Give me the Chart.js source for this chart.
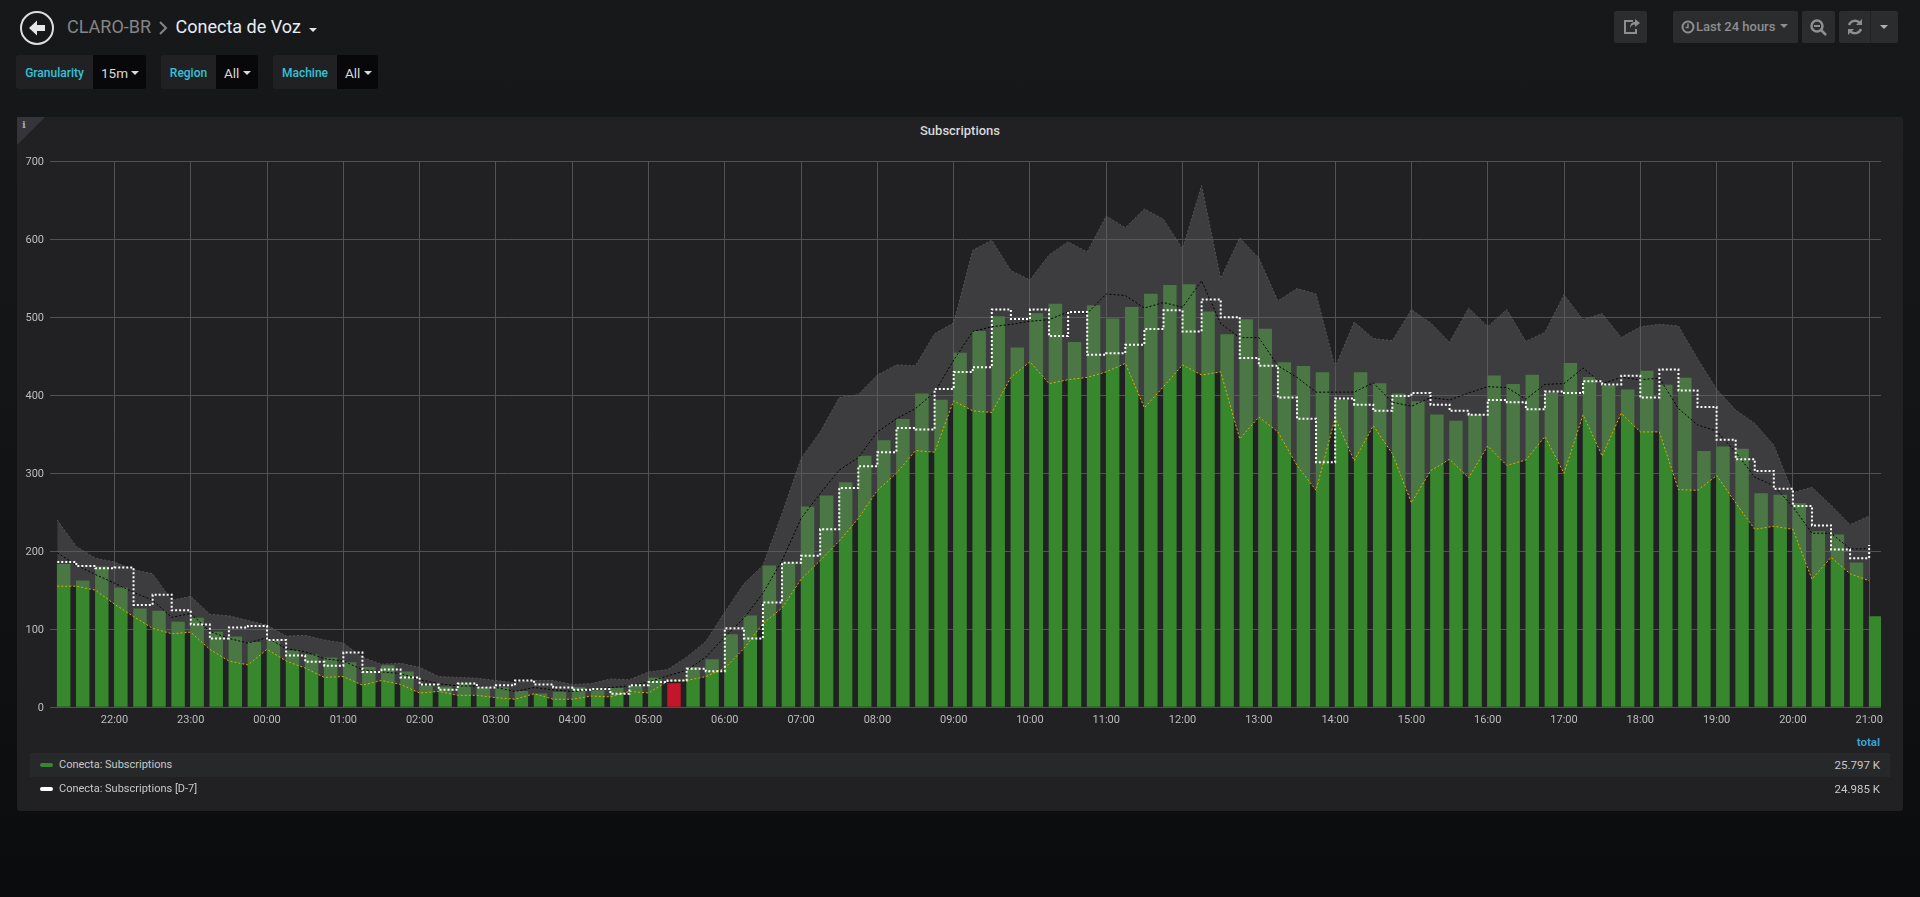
<!DOCTYPE html>
<html>
<head>
<meta charset="utf-8">
<title>Conecta de Voz</title>
<script src="https://cdn.jsdelivr.net/npm/chart.js@4"></script>
<style>
  html, body { margin: 0; padding: 0; width: 1920px; height: 897px; overflow: hidden; }
  body { background: linear-gradient(180deg, #17181a 0, #141517 40%, #0b0c0e 100%); font-family: Roboto, sans-serif; position: relative; }
  .abs { position: absolute; white-space: nowrap; }
  .crumb { font-size: 18px; line-height: 24px; top: 15px; }
  .var-label, .var-value { top: 55px; height: 34px; line-height: 36px; box-sizing: border-box; }
  .var-label { background: #212124; color: #33c3d8; font-size: 12px; font-weight: 500; text-align: center; border-radius: 3px 0 0 3px; }
  .var-value { background: #08080a; color: #d8d9da; font-size: 13.5px; padding-left: 8px; border-radius: 0 3px 3px 0; }
  .caret { width: 0; height: 0; border-left: 4px solid transparent; border-right: 4px solid transparent; border-top: 4px solid currentColor; }
  .btn { top: 11px; height: 32px; background: #2b2c2e; border-radius: 2px; color: #8e8e8e; }
  #panel { left: 17px; top: 117px; width: 1886px; height: 694px; background: #212124; border-radius: 3px; }
  #corner { left: 17px; top: 117px; width: 0; height: 0; border-top: 28px solid #34343a; border-right: 28px solid transparent; }
  #chart { position: absolute; left: 17px; top: 117px; }
  #panel-title { left: 17px; width: 1886px; top: 123px; text-align: center; color: #d8d9da; font-size: 13px; font-weight: 500; line-height: 16px; }
  .leg-row { left: 30px; width: 1860px; height: 24px; line-height: 24px; color: #c8c8c8; font-size: 11px; }
  .leg-name { position: absolute; left: 29px; }
  .leg-total { position: absolute; right: 10px; font-size: 11.5px; }
  .leg-swatch { position: absolute; left: 10px; top: 10px; width: 13px; height: 4px; border-radius: 2px; }
</style>
</head>
<body>
<svg class="abs" style="left:19px;top:10px" width="37" height="36" viewBox="0 0 37 36">
  <circle cx="18" cy="18" r="16" fill="none" stroke="#dfdfdf" stroke-width="2"/>
  <path d="M10 18 L18 10.5 L18 15 L26 15 L26 21 L18 21 L18 25.5 Z" fill="#e6e6e6"/>
</svg>
<div class="abs crumb" style="left:67px;color:#858585">CLARO-BR</div>
<svg class="abs" style="left:159px;top:21px" width="9" height="14" viewBox="0 0 9 14"><path d="M1 1 L7 7 L1 13" fill="none" stroke="#858585" stroke-width="2"/></svg>
<div class="abs crumb" style="left:175.5px;color:#e9edf2">Conecta de Voz</div>
<div class="abs caret" style="left:309px;top:28px;color:#e3e3e3"></div>

<div class="abs var-label" style="left:16px;width:77px">Granularity</div>
<div class="abs var-value" style="left:93px;width:53px">15m</div>
<div class="abs caret" style="left:131px;top:71px;color:#d8d9da"></div>
<div class="abs var-label" style="left:161px;width:55px">Region</div>
<div class="abs var-value" style="left:216px;width:42px">All</div>
<div class="abs caret" style="left:243px;top:71px;color:#d8d9da"></div>
<div class="abs var-label" style="left:273px;width:64px">Machine</div>
<div class="abs var-value" style="left:337px;width:41px">All</div>
<div class="abs caret" style="left:364px;top:71px;color:#d8d9da"></div>

<div class="abs btn" style="left:1614px;width:33px">
  <svg width="33" height="32" viewBox="0 0 33 32"><path d="M19 10 H11 V22 H22 V18" fill="none" stroke="#8e8e8e" stroke-width="2"/><path d="M16 17 C16 13 18 11 21 11 V8 L26 12 L21 16 V13.5 C18.500 13.500 17 15 16 17 Z" fill="#8e8e8e"/></svg>
</div>
<div class="abs btn" style="left:1673px;width:125px;line-height:32px;font-size:13px;font-weight:500">
  <svg class="abs" style="left:8px;top:9px" width="14" height="14" viewBox="0 0 14 14"><circle cx="7" cy="7" r="5.500" fill="none" stroke="#8e8e8e" stroke-width="2"/><path d="M7 3.500 V7.500 H4.500" fill="none" stroke="#8e8e8e" stroke-width="1.500"/></svg>
  <span class="abs" style="left:23px">Last 24 hours</span>
  <div class="abs caret" style="left:107px;top:13px"></div>
</div>
<div class="abs btn" style="left:1802px;width:33px">
  <svg width="33" height="32" viewBox="0 0 33 32"><circle cx="15" cy="15" r="5.500" fill="none" stroke="#8e8e8e" stroke-width="2.500"/><path d="M12 15 H18" stroke="#8e8e8e" stroke-width="2"/><path d="M19 19 L24 24" stroke="#8e8e8e" stroke-width="2.500"/></svg>
</div>
<div class="abs btn" style="left:1839px;width:59px">
  <svg class="abs" style="left:0;top:0" width="32" height="32" viewBox="0 0 32 32"><path d="M10 14 A6.500 6.500 0 0 1 21 12" fill="none" stroke="#8e8e8e" stroke-width="2.500"/><path d="M23 8 V14 H17 Z" fill="#8e8e8e"/><path d="M22 18 A6.500 6.500 0 0 1 11 20" fill="none" stroke="#8e8e8e" stroke-width="2.500"/><path d="M9 24 V18 H15 Z" fill="#8e8e8e"/></svg>
  <div class="abs" style="left:31px;top:0;width:1px;height:32px;background:#212224"></div>
  <div class="abs caret" style="left:41px;top:14px;color:#b0b0b0"></div>
</div>

<div id="panel" class="abs"></div>
<div id="corner" class="abs"></div>
<div class="abs" style="left:22px;top:119px;color:#a8a8a8;font:bold 10px 'DejaVu Serif',serif">i</div>
<div id="panel-title" class="abs">Subscriptions</div>
<canvas id="chart" width="1886" height="694"></canvas>

<div class="abs" style="right:40px;top:735px;color:#33a5d8;font-size:11.5px;font-weight:700;line-height:14px">total</div>
<div id="legend"></div>

<script>
const times = [
  '21:15','21:30','21:45',
  '22:00','22:15','22:30','22:45','23:00','23:15','23:30','23:45',
  '00:00','00:15','00:30','00:45','01:00','01:15','01:30','01:45',
  '02:00','02:15','02:30','02:45','03:00','03:15','03:30','03:45',
  '04:00','04:15','04:30','04:45','05:00','05:15','05:30','05:45',
  '06:00','06:15','06:30','06:45','07:00','07:15','07:30','07:45',
  '08:00','08:15','08:30','08:45','09:00','09:15','09:30','09:45',
  '10:00','10:15','10:30','10:45','11:00','11:15','11:30','11:45',
  '12:00','12:15','12:30','12:45','13:00','13:15','13:30','13:45',
  '14:00','14:15','14:30','14:45','15:00','15:15','15:30','15:45',
  '16:00','16:15','16:30','16:45','17:00','17:15','17:30','17:45',
  '18:00','18:15','18:30','18:45','19:00','19:15','19:30','19:45',
  '20:00','20:15','20:30','20:45','21:00'
];

// Conecta: Subscriptions
const subscriptions = [
  183,162,180,
  153,126,123,109,114,96,90,83,
  85,72,67,63,57,51,53,45,
  27,26,30,25,25,20,17,19,
  25,21,24,27,37,30,51,61,
  93,117,181,185,257,271,288,322,
  342,369,402,394,454,482,501,461,
  505,517,468,515,498,513,530,541,
  542,507,478,497,485,442,437,429,
  394,429,415,402,392,375,367,375,
  425,414,426,403,441,423,412,407,
  431,413,422,328,334,331,274,272,
  261,225,221,185,116
];

// Conecta: Subscriptions [D-7]
const subscriptionsD7 = [
  186,181,178,
  179,131,144,124,106,88,102,104,
  86,66,58,53,70,45,48,38,
  29,22,30,25,28,34,29,25,
  22,23,17,28,32,34,49,46,
  101,88,134,185,194,228,281,309,
  327,358,356,408,430,436,510,498,
  510,476,507,452,454,465,485,509,
  482,523,500,448,438,397,370,314,
  396,388,380,399,403,388,380,375,
  394,391,382,405,403,418,414,425,
  397,433,406,385,343,318,303,280,
  258,233,202,191,208
];

// expected band
const bandUpper = [
  240,206,191,
  186,176,171,137,142,119,117,111,
  105,91,92,86,82,64,55,56,
  51,39,38,37,34,31,34,34,
  29,30,36,35,45,48,64,84,
  122,158,182,248,319,353,397,401,
  426,439,438,479,493,586,599,560,
  548,580,597,584,630,615,639,626,
  588,669,550,602,576,521,537,530,
  436,494,473,470,510,493,468,512,
  488,510,469,481,529,497,505,474,
  488,491,489,447,408,381,364,336,
  275,282,259,234,245
];

const bandLower = [
  155,155,150,
  132,116,101,94,96,74,59,54,
  74,59,50,38,39,28,34,29,
  18,20,15,15,12,10,17,10,
  10,14,13,20,18,33,34,39,
  50,75,107,127,164,188,213,242,
  278,300,329,327,393,380,378,423,
  443,415,420,423,430,441,384,411,
  439,426,430,344,372,353,310,278,
  371,316,361,325,262,303,318,294,
  335,310,317,347,300,375,322,377,
  353,353,279,278,297,262,228,232,
  228,164,192,171,162
];

const bandMedian = [
  198,182,170,
  159,147,137,115,120,97,88,82,
  89,75,71,62,59,48,45,43,
  35,30,27,27,25,20,25,22,
  20,22,25,27,32,40,47,64,
  90,114,146,188,242,274,304,320,
  353,370,383,404,445,482,488,491,
  495,497,507,505,530,528,512,519,
  513,547,492,474,474,438,423,404,
  404,404,416,391,386,397,394,403,
  411,410,395,414,415,435,415,423,
  420,422,383,362,354,327,295,284,
  257,223,223,203,203
];

const hourLabels = ['22:00','23:00','00:00','01:00','02:00','03:00','04:00','05:00','06:00','07:00','08:00','09:00',
  '10:00','11:00','12:00','13:00','14:00','15:00','16:00','17:00','18:00','19:00','20:00','21:00'];

const alertSlot = '05:15';

const legendNames = ['Conecta: Subscriptions', 'Conecta: Subscriptions [D-7]'];
const legendTotals = ['25.797 K', '24.985 K'];
const legendColors = ['#37872d', '#ffffff'];

// minutes since 21:00 of the day before, the window is 24h
function toMinutes(label) {
  const parts = label.split(':');
  const m = ((+parts[0] - 21 + 24) % 24) * 60 + (+parts[1]);
  return m === 0 ? 1440 : m;
}

const axisMin = 9.3;
const axisMax = 1449.3;
const barWidth = 12.8;
const pxPerMinute = 1831 / (axisMax - axisMin);
// grafana bars start at the timestamp instead of being centered on it
const barShift = barWidth / 2 / pxPerMinute;

function linePoints(values) {
  return values.map((v, i) => ({ x: toMinutes(times[i]), y: v }));
}

const ctx = document.getElementById('chart').getContext('2d');

new Chart(ctx, {
  type: 'bar',
  data: {
    datasets: [
      {
        type: 'bar',
        label: legendNames[0],
        data: subscriptions.map((v, i) => ({ x: toMinutes(times[i]) + barShift, y: v })),
        backgroundColor: times.map(t => t === alertSlot ? '#c4162a' : '#37872d'),
        barThickness: barWidth,
        order: 5
      },
      {
        type: 'line',
        label: 'upper',
        data: linePoints(bandUpper),
        borderColor: '#555557',
        borderWidth: 1,
        borderDash: [2, 2],
        pointRadius: 0,
        tension: 0,
        fill: 2,
        backgroundColor: 'rgba(100,100,100,0.43)',
        order: 4
      },
      {
        type: 'line',
        label: 'lower',
        data: linePoints(bandLower),
        borderColor: '#dfae00',
        borderWidth: 1,
        borderDash: [2, 2],
        pointRadius: 0,
        tension: 0,
        fill: false,
        order: 3
      },
      {
        type: 'line',
        label: 'median',
        data: linePoints(bandMedian),
        borderColor: '#000000',
        borderWidth: 1,
        borderDash: [2, 2],
        pointRadius: 0,
        tension: 0,
        fill: false,
        order: 2
      },
      {
        type: 'line',
        label: legendNames[1],
        data: linePoints(subscriptionsD7),
        borderColor: '#ffffff',
        borderWidth: 2,
        borderDash: [2, 2],
        stepped: true,
        pointRadius: 0,
        fill: false,
        order: 1
      }
    ]
  },
  options: {
    responsive: false,
    animation: false,
    layout: { padding: { top: 44.5, right: 22, bottom: 0, left: 0 } },
    plugins: { legend: { display: false }, tooltip: { enabled: false } },
    scales: {
      x: {
        type: 'linear',
        min: axisMin,
        max: axisMax,
        offset: false,
        afterFit: scale => { scale.height = 104; },
        // one tick per hour, the labels come from hourLabels
        afterBuildTicks: scale => { scale.ticks = hourLabels.map(label => ({ value: toMinutes(label) })); },
        grid: { color: '#525254', lineWidth: 1, offset: false, drawTicks: false },
        border: { display: false },
        ticks: {
          autoSkip: false,
          maxRotation: 0,
          padding: 7,
          color: '#bdbdbd',
          font: { family: 'Roboto', size: 11 },
          callback: value => hourLabels.find(label => toMinutes(label) === value)
        }
      },
      y: {
        min: 0,
        max: 700,
        afterFit: scale => { scale.width = 33; },
        grid: { color: '#525254', lineWidth: 1, drawTicks: false },
        border: { display: false },
        ticks: {
          stepSize: 100,
          padding: 6,
          labelOffset: 1,
          color: '#bdbdbd',
          font: { family: 'Roboto', size: 11 }
        }
      }
    }
  }
});

// legend table under the graph
const legend = document.getElementById('legend');
legendNames.forEach((name, i) => {
  const row = document.createElement('div');
  row.className = 'abs leg-row';
  row.style.top = (753 + i * 24) + 'px';
  if (i === 0) row.style.background = '#27282a';
  row.innerHTML = '<div class="leg-swatch" style="background:' + legendColors[i] + '"></div>' +
    '<div class="leg-name">' + name + '</div><div class="leg-total">' + legendTotals[i] + '</div>';
  legend.appendChild(row);
});
</script>
</body>
</html>
